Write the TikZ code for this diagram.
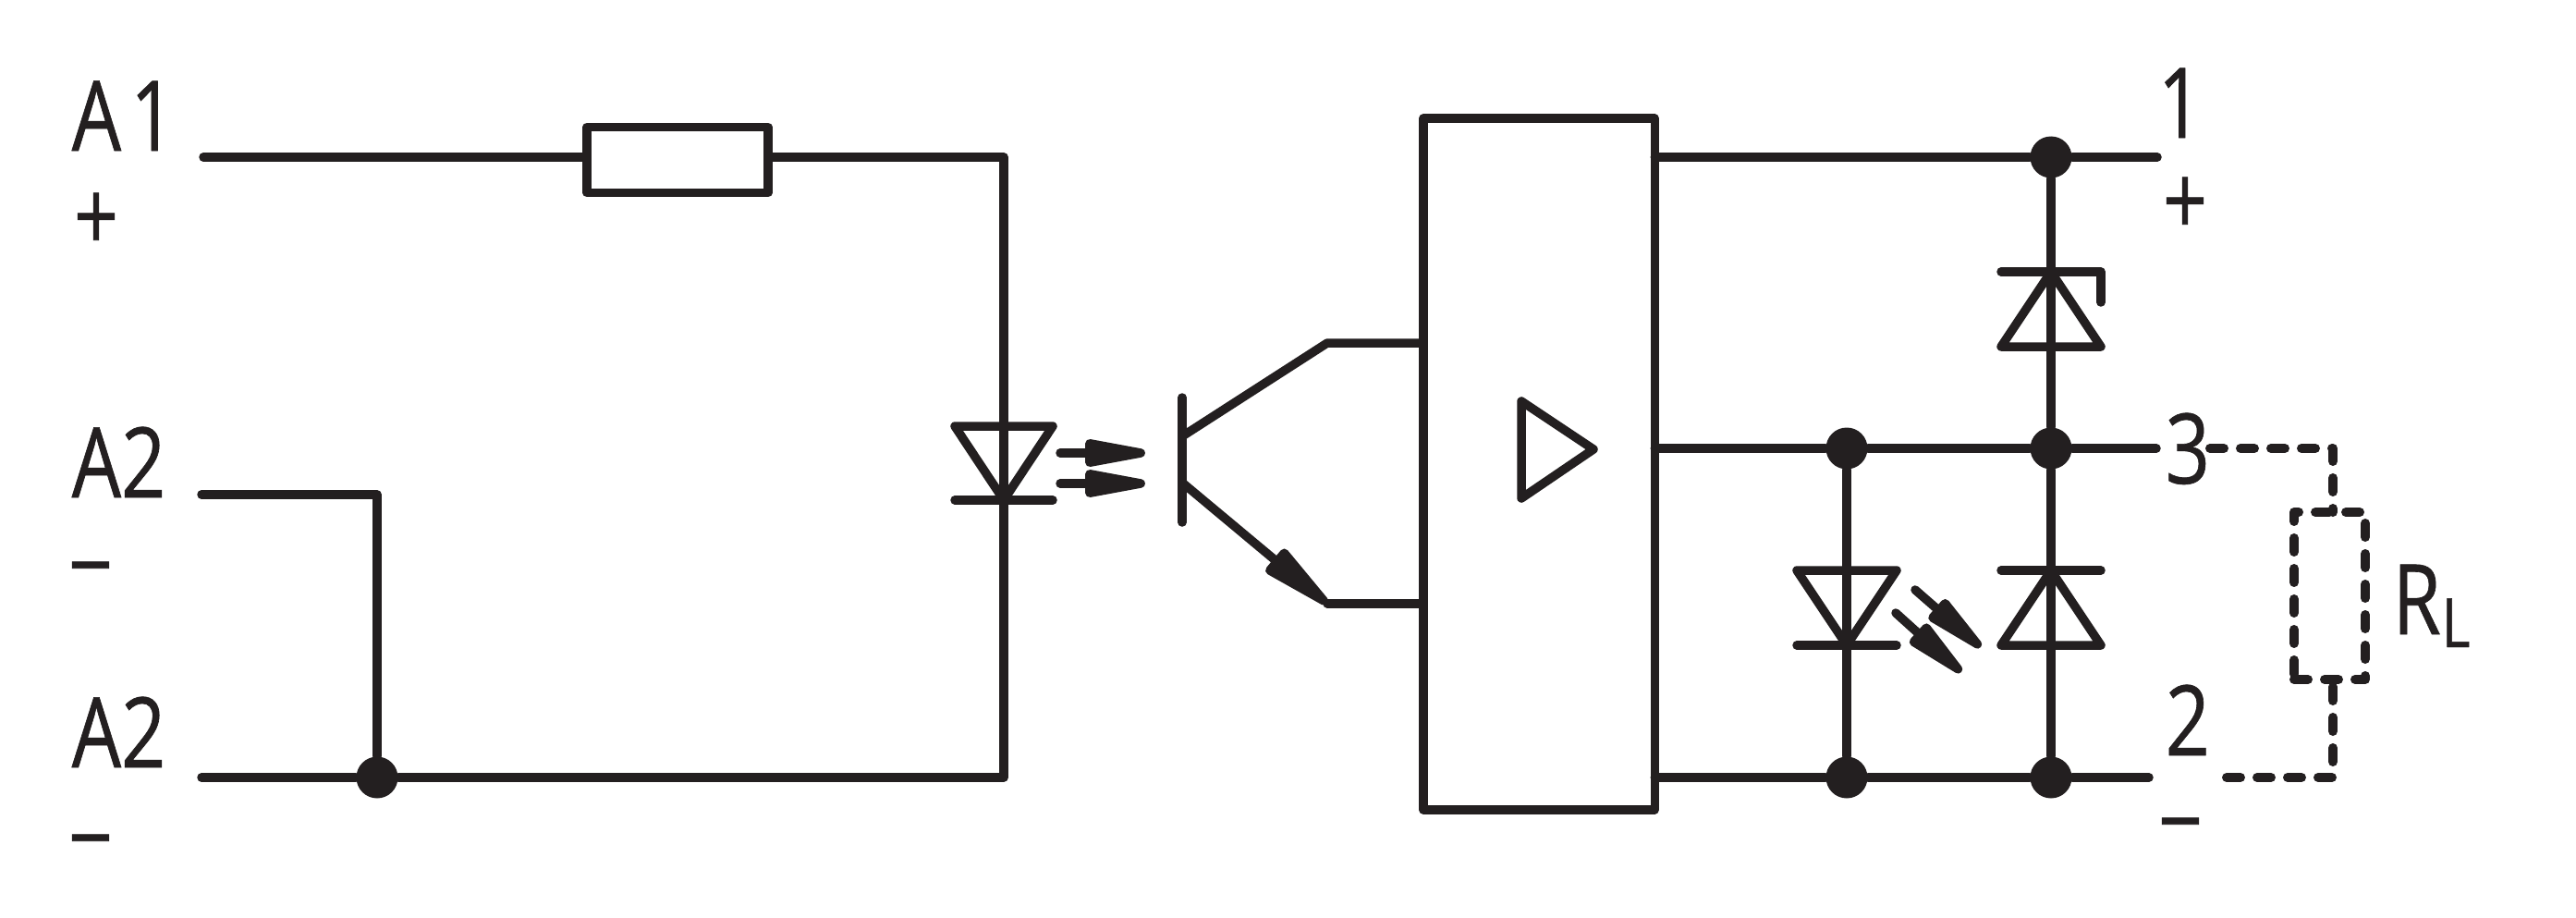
\documentclass[tikz,border=0pt]{standalone}
\usepackage{fontspec}
\usetikzlibrary{arrows.meta}
\newfontfamily\labelfont[FakeStretch=0.8,FakeBold=0.6]{Open Sans}
\definecolor{ink}{HTML}{231F20}
\tikzset{
	wire/.style={draw=ink,line width=0.095cm,line cap=round,line join=round},
	loadwire/.style={wire,line width=0.1cm,dash pattern=on 0.15cm off 0.18cm},
	ray/.style={wire,-{Triangle[length=0.9cm,width=0.29cm,round]}},
	junction/.style={circle,fill=ink,inner sep=0pt,minimum size=0.45cm},
	term/.style={text=ink,inner sep=0pt,anchor=base west,font=\labelfont\fontsize{30}{32}\selectfont},
	sign/.style={term,anchor=center},
	block/.style={rectangle,draw=ink,line width=0.095cm,line join=round,inner sep=0pt,outer sep=0pt}
}
\begin{document}
\begin{tikzpicture}
	\useasboundingbox (0,0) rectangle (27.87,9.92);
	% terminals left
	\draw
	node[term](LA1)at(0.77,8.29){A\kern0.1cm 1}
	node[sign](LAp)at(1.04,7.52){+}
	node[term](LA2)at(0.77,4.54){A2}
	node[sign](LAm)at(0.98,3.64){−}
	node[term](LB2)at(0.77,1.62){A2}
	node[sign](LBm)at(0.98,0.69){−};
	% terminals right
	\draw
	node[term](L1)at(23.34,8.43){1}
	node[sign](Lp)at(23.64,7.69){+}
	node[term](L3)at(23.42,4.69){3}
	node[term](L2)at(23.42,1.75){2}
	node[sign](Lm)at(23.59,0.87){−}
	node[term](LR)at(25.88,3.06){R\kern0.01cm\raisebox{-0.14cm}{\fontsize{21}{21}\selectfont L}};
	% wires, junctions
	\draw
	coordinate(A)at(2.20,8.22)
	coordinate(B)at(2.18,4.57)
	coordinate(C)at(2.18,1.51)
	coordinate(D)at(4.08,4.57)
	coordinate(E)at(10.86,8.22)
	coordinate(F)at(10.86,1.51)
	node[junction](J1)at(4.08,1.51){}
	node[block,minimum width=1.96cm,minimum height=0.71cm](Fuse)at(7.33,8.19){}
	node[block,minimum width=2.505cm,minimum height=7.475cm](Amp)at(16.65,4.90){}
	node[junction](J2)at(22.19,8.22){}
	node[junction](J3)at(19.98,5.07){}
	node[junction](J4)at(22.19,5.07){}
	node[junction](J5)at(19.98,1.51){}
	node[junction](J6)at(22.19,1.51){}
	coordinate(G)at(23.34,8.22)
	coordinate(H)at(23.33,5.07)
	coordinate(I)at(23.25,1.51);
	\draw[wire](A)--(A-|Fuse.west);
	\draw[wire](Fuse.east|-E)--(E)--(F)--(J1);
	\draw[wire](B)--(D)--(J1);
	\draw[wire](C)--(J1);
	\draw[wire](G|-J2)--(J2)--(J2-|Amp.east);
	\draw[wire](H)--(J4)--(J3)--(J3-|Amp.east);
	\draw[wire](I)--(J6)--(J5)--(J5-|Amp.east);
	\draw[wire](J2)--(J4)--(J6);
	\draw[wire](J3)--(J5);
	% input led
	\draw
	coordinate(La)at(10.33,5.31)
	coordinate(Lb)at(11.39,5.31)
	coordinate(Lc)at(10.86,4.51)
	coordinate(Ld)at(10.33,4.51)
	coordinate(Le)at(11.39,4.51)
	coordinate(Ra)at(11.47,5.02)
	coordinate(Rb)at(12.39,5.02)
	coordinate(Rc)at(11.47,4.69)
	coordinate(Rd)at(12.39,4.69);
	\draw[wire](La)--(Lb)--(Lc)--cycle;
	\draw[wire](Ld)--(Le);
	\draw[ray](Ra)--(Rb);
	\draw[ray](Rc)--(Rd);
	% transistor
	\draw
	coordinate(Ta)at(12.79,5.62)
	coordinate(Tb)at(12.79,4.27)
	coordinate(Tc)at(12.79,5.20)
	coordinate(Td)at(14.36,6.21)
	coordinate(Te)at(12.79,4.70)
	coordinate(Tf)at(14.36,3.39);
	\draw[wire](Ta)--(Tb);
	\draw[wire](Tc)--(Td)--(Td-|Amp.west);
	\draw[wire](Tf)--(Tf-|Amp.west);
	\draw[wire,-{Triangle[length=1.0cm,width=0.33cm,round]}](Te)--(Tf);
	% amplifier triangle
	\draw
	coordinate(Aa)at(16.46,5.58)
	coordinate(Ab)at(16.46,4.53)
	coordinate(Ac)at(17.24,5.06);
	\draw[wire](Aa)--(Ab)--(Ac)--cycle;
	% zener
	\draw
	coordinate(Za)at(21.65,6.98)
	coordinate(Zb)at(22.73,6.98)
	coordinate(Zc)at(22.73,6.65)
	coordinate(Zd)at(21.65,6.17)
	coordinate(Ze)at(22.73,6.17)
	coordinate(Zf)at(22.19,6.98);
	\draw[wire](Za)--(Zb)--(Zc);
	\draw[wire](Zd)--(Ze)--(Zf)--cycle;
	% output led
	\draw
	coordinate(Oa)at(19.44,3.75)
	coordinate(Ob)at(20.52,3.75)
	coordinate(Oc)at(19.98,2.94)
	coordinate(Od)at(19.44,2.94)
	coordinate(Oe)at(20.52,2.94)
	coordinate(Pa)at(20.72,3.54)
	coordinate(Pb)at(21.43,2.92)
	coordinate(Pc)at(20.51,3.29)
	coordinate(Pd)at(21.22,2.65);
	\draw[wire](Oa)--(Ob)--(Oc)--cycle;
	\draw[wire](Od)--(Oe);
	\draw[ray](Pa)--(Pb);
	\draw[ray](Pc)--(Pd);
	% diode
	\draw
	coordinate(Da)at(21.65,3.75)
	coordinate(Db)at(22.73,3.75)
	coordinate(Dc)at(21.65,2.94)
	coordinate(Dd)at(22.73,2.94)
	coordinate(De)at(22.19,3.75);
	\draw[wire](Da)--(Db);
	\draw[wire](Dc)--(Dd)--(De)--cycle;
	% load
	\draw
	node[block,line width=0.1cm,dash pattern=on 0.15cm off 0.18cm,line cap=round,minimum width=0.77cm,minimum height=1.81cm](Load)at(25.205,3.4750){}
	coordinate(Ka)at(23.91,5.07)
	coordinate(Kb)at(25.24,5.07)
	coordinate(Kc)at(24.09,1.51)
	coordinate(Kd)at(25.24,1.51);
	\draw[loadwire](Ka)--(Kb)--(Kb|-Load.north);
	\draw[loadwire](Kc)--(Kd)--(Kd|-Load.south);
\end{tikzpicture}
\end{document}
